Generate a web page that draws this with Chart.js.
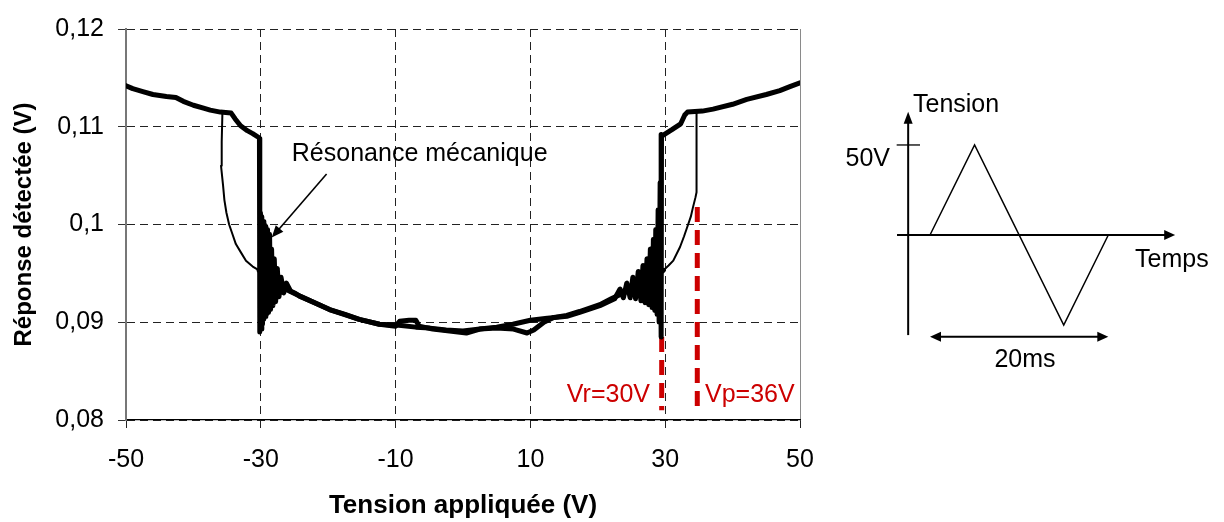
<!DOCTYPE html>
<html><head><meta charset="utf-8">
<script src="https://cdn.jsdelivr.net/npm/chart.js@4.4.0/dist/chart.umd.min.js"></script>
<style>
html,body{margin:0;padding:0;background:#fff;}
#wrap{position:relative;width:1224px;height:522px;overflow:hidden;}
#main{position:absolute;left:0;top:0;}
#inset{position:absolute;left:820px;top:60px;}
</style></head><body>
<div id="wrap">
<canvas id="main" width="1224" height="522"></canvas>
<canvas id="inset" width="400" height="330"></canvas>
</div>
<script>
// ---------- DATA ----------
// Axis ticks
const xTickValues = [-50, -30, -10, 10, 30, 50];
const xTickLabels = ['-50', '-30', '-10', '10', '30', '50'];
const yTickValues = [0.08, 0.09, 0.10, 0.11, 0.12];
const yTickLabels = ['0,08', '0,09', '0,1', '0,11', '0,12'];

// Sweep with increasing voltage (thick trace): upper left plateau, release at -30 V with ringing, lower curve
const upV = [-50, -49, -47.5, -46, -45, -44, -42.6, -41.5, -40, -38.5, -37.5, -36, -34.4, -33.8, -33, -32, -31.2, -30.3,
  -30.2, -30.15, -30.05, -29.95, -29.85, -29.75, -29.65, -29.55, -29.45, -29.35, -29.25, -29.15, -29.0, -28.85, -28.7, -28.55,
  -28.4, -28.2, -28.0, -27.8, -27.55, -27.3, -27.0, -26.6, -26.2, -25.6, -25.0,
  -24.3, -22, -19.8, -17.5, -15.4, -12.4, -10, -9.4, -8, -7, -6.5, -4.5, -2, 0.5, 2.5, 5,
  7.5, 9.5, 10.5, 12, 13.5, 15.4, 17.3, 20.3, 22, 23.5, 25, 26.5, 28, 29.1, 29.7];
const upR = [0.1142, 0.1139, 0.1136, 0.1133, 0.1132, 0.1131, 0.1130, 0.1126, 0.1122, 0.1119, 0.1117, 0.1115, 0.1114, 0.1108, 0.1101, 0.1096, 0.1093, 0.1089,
  0.1088, 0.0890, 0.1012, 0.0893, 0.1008, 0.0898, 0.1003, 0.0903, 0.1000, 0.0906, 0.0998, 0.0908, 0.0995, 0.0910, 0.0990, 0.0913,
  0.0975, 0.0917, 0.0965, 0.0921, 0.0955, 0.0926, 0.0946, 0.0930, 0.0940, 0.0932, 0.0930,
  0.0927, 0.0920, 0.0913, 0.0908, 0.0903, 0.0898, 0.0896, 0.0901, 0.0902, 0.0902, 0.0896, 0.0893, 0.0891, 0.0889, 0.0893, 0.0894,
  0.0893, 0.0889, 0.0892, 0.0900, 0.0905, 0.0907, 0.0911, 0.0918, 0.0924, 0.0929, 0.0934, 0.0940, 0.0946, 0.0950, 0.0953];

// Pull-in transition on the right (thin trace)
const pullRightV = [29.7, 30.5, 31.2, 32.2, 32.8, 33.4, 33.8, 34.1, 34.5, 34.65, 34.65];
const pullRightR = [0.0953, 0.0958, 0.0963, 0.0977, 0.0988, 0.1000, 0.1008, 0.1017, 0.1028, 0.1033, 0.1114];

// Sweep with decreasing voltage (thick trace): upper right plateau, release at 30 V with ringing, lower curve
const downV = [50, 48.5, 47, 45, 42.1, 40, 37.1, 35.5, 33.3, 32.9, 32.3, 31, 29.6, 29.45,
  29.4, 29.25, 29.1, 28.95, 28.8, 28.6, 28.45, 28.25, 28.05, 27.8, 27.55, 27.3, 27.0, 26.7, 26.4, 26.0, 25.6, 25.2, 24.8, 24.3,
  23.8, 23.3, 22.5, 20.3, 17.3, 15.4, 12.5, 10, 7.4, 5, 2.5, 0, -2.5, -4.9, -7, -9.5, -12.4, -15.4, -19.8, -24.3, -27.3, -29, -30.24];
const downR = [0.1145, 0.1141, 0.1137, 0.1133, 0.1128, 0.1123, 0.1118, 0.1116, 0.1115, 0.1112, 0.1103, 0.1097, 0.1091, 0.1092,
  0.0885, 0.1043, 0.0900, 0.1015, 0.0908, 0.0995, 0.0912, 0.0985, 0.0915, 0.0975, 0.0918, 0.0965, 0.0920, 0.0958, 0.0922, 0.0952, 0.0924, 0.0946, 0.0925, 0.0940,
  0.0925, 0.0934, 0.0924, 0.0917, 0.0910, 0.0906, 0.0904, 0.0902, 0.0898, 0.0895, 0.0893, 0.0891, 0.0892, 0.0894, 0.0895, 0.0897, 0.0898, 0.0903, 0.0913, 0.0927, 0.0937, 0.0946, 0.0953];

// Pull-in transition on the left (thin trace)
const pullLeftV = [-30.24, -31.2, -32.2, -33, -33.7, -34.2, -34.7, -35.1, -35.4, -35.6, -35.9, -35.8, -35.7];
const pullLeftR = [0.0953, 0.0957, 0.0963, 0.0972, 0.0980, 0.0990, 0.1000, 0.1012, 0.1025, 0.1040, 0.1060, 0.1085, 0.1113];

// Red markers: release voltage Vr and pull-in voltage Vp
const vrMarkerV = [29.48, 29.48];
const vrMarkerR = [0.0885, 0.0810];
const vpMarkerV = [34.76, 34.76];
const vpMarkerR = [0.1018, 0.0807];

// Annotations (anchored in data units)
const resonanceLabel = 'Résonance mécanique';
const resonanceAnchor = [-25.4, 0.1065];
const resonanceArrowFrom = [-20.24, 0.10517];
const resonanceArrowTo = [-28.38, 0.09867];
const vrLabel = 'Vr=30V';
const vrLabelAnchor = [27.74, 0.0818];
const vpLabel = 'Vp=36V';
const vpLabelAnchor = [35.9, 0.0818];

// Inset: triangular drive signal
const waveT = [0, 5, 15, 20];
const waveV = [0, 50, -50, 0];
const insetLabels = ['Tension', 'Temps', '50V', '20ms'];

// ---------- RENDER ----------
const FONT = "'Liberation Sans', Arial, Helvetica, sans-serif";
const RED = '#cc0000';
const toPts = (xs, ys) => xs.map((x, i) => ({x: x, y: ys[i]}));

function arrowHead(ctx, tx, ty, dx, dy, len, half) {
  const n = Math.hypot(dx, dy); dx /= n; dy /= n;
  const bx = tx - dx * len, by = ty - dy * len;
  ctx.beginPath();
  ctx.moveTo(tx, ty);
  ctx.lineTo(bx - dy * half, by + dx * half);
  ctx.lineTo(bx + dy * half, by - dx * half);
  ctx.closePath();
  ctx.fill();
}

const annotPlugin = {
  id: 'annot',
  afterDatasetsDraw(chart) {
    const {ctx, scales: {x, y}} = chart;
    const px = v => x.getPixelForValue(v), py = v => y.getPixelForValue(v);
    ctx.save();
    ctx.font = '25px ' + FONT;
    ctx.textBaseline = 'alphabetic';
    ctx.fillStyle = '#000';
    ctx.textAlign = 'left';
    ctx.fillText(resonanceLabel, px(resonanceAnchor[0]), py(resonanceAnchor[1]));
    const x1 = px(resonanceArrowFrom[0]), y1 = py(resonanceArrowFrom[1]);
    const x2 = px(resonanceArrowTo[0]), y2 = py(resonanceArrowTo[1]);
    ctx.strokeStyle = '#000'; ctx.lineWidth = 1.6;
    const dx = x2 - x1, dy = y2 - y1, n = Math.hypot(dx, dy);
    ctx.beginPath(); ctx.moveTo(x1, y1); ctx.lineTo(x2 - dx / n * 8, y2 - dy / n * 8); ctx.stroke();
    arrowHead(ctx, x2, y2, dx, dy, 12, 5);
    ctx.fillStyle = RED;
    ctx.textAlign = 'right';
    ctx.fillText(vrLabel, px(vrLabelAnchor[0]), py(vrLabelAnchor[1]));
    ctx.textAlign = 'left';
    ctx.fillText(vpLabel, px(vpLabelAnchor[0]), py(vpLabelAnchor[1]));
    ctx.restore();
  }
};

const thick = {borderColor: '#000', borderWidth: 5, pointRadius: 0, tension: 0, borderJoinStyle: 'round', borderCapStyle: 'round', fill: false};
const thin = {borderColor: '#000', borderWidth: 2, pointRadius: 0, tension: 0, borderJoinStyle: 'round', borderCapStyle: 'round', fill: false};
const redDash = {borderColor: RED, borderWidth: 5, pointRadius: 0, tension: 0, borderDash: [15, 8], borderCapStyle: 'butt', fill: false};

new Chart(document.getElementById('main'), {
  type: 'line',
  data: {
    datasets: [
      Object.assign({label: 'up', data: toPts(upV, upR)}, thick),
      Object.assign({label: 'down', data: toPts(downV, downR)}, thick),
      Object.assign({label: 'pullRight', data: toPts(pullRightV, pullRightR)}, thin),
      Object.assign({label: 'pullLeft', data: toPts(pullLeftV, pullLeftR)}, thin),
      Object.assign({label: 'Vr', data: toPts(vrMarkerV, vrMarkerR)}, redDash),
      Object.assign({label: 'Vp', data: toPts(vpMarkerV, vpMarkerR)}, redDash)
    ]
  },
  options: {
    responsive: false,
    animation: false,
    events: [],
    layout: {padding: {left: 0, top: 20, right: 424, bottom: 0}},
    plugins: {legend: {display: false}, tooltip: {enabled: false}},
    scales: {
      x: {
        type: 'linear', min: -50, max: 50,
        afterBuildTicks: s => { s.ticks = xTickValues.map(v => ({value: v})); },
        afterFit: s => { s.height = 102; },
        ticks: {
          callback: (v, i) => xTickLabels[i],
          font: {family: FONT, size: 25}, color: '#000', padding: 17, maxRotation: 0, autoSkip: false
        },
        grid: {
          color: c => (c.tick && c.tick.value === 50) ? '#8a8a8a' : '#222',
          lineWidth: 1, tickLength: 8, tickColor: '#222', tickWidth: 1
        },
        border: {display: true, color: '#000', width: 1.2, dash: c => (c.tick && c.tick.value === 50) ? [] : [8, 5]},
        title: {display: true, text: 'Tension appliquée (V)', font: {family: FONT, size: 26, weight: 'bold'}, color: '#000', padding: {top: 0, bottom: 1}}
      },
      y: {
        type: 'linear', min: 0.08, max: 0.12,
        afterBuildTicks: s => { s.ticks = yTickValues.map(v => ({value: v})); },
        afterFit: s => { s.width = 126; },
        ticks: {
          callback: (v, i) => yTickLabels[i],
          font: {family: FONT, size: 25}, color: '#000', padding: 14
        },
        grid: {color: '#222', lineWidth: 1, tickLength: 8, tickColor: '#333', tickWidth: 1},
        border: {display: true, color: '#777', width: 2, dash: [8, 5]},
        title: {display: true, text: 'Réponse détectée (V)', font: {family: FONT, size: 24, weight: 'bold'}, color: '#000', padding: {top: 10, bottom: 0}}
      }
    }
  },
  plugins: [annotPlugin]
});

// ---------- INSET ----------
const insetPlugin = {
  id: 'insetAxes',
  beforeDatasetsDraw(chart) {
    const {ctx, scales: {x, y}} = chart;
    const px = v => x.getPixelForValue(v), py = v => y.getPixelForValue(v);
    ctx.save();
    ctx.strokeStyle = '#000'; ctx.fillStyle = '#000';
    ctx.lineWidth = 2;
    ctx.beginPath(); ctx.moveTo(px(-2.45), py(-55.6)); ctx.lineTo(px(-2.45), py(63)); ctx.stroke();
    arrowHead(ctx, px(-2.45), py(68.5), 0, -1, 12, 4.5);
    ctx.beginPath(); ctx.moveTo(px(-3.7), py(0)); ctx.lineTo(px(26.5), py(0)); ctx.stroke();
    arrowHead(ctx, px(27.5), py(0), 1, 0, 11, 5);
    ctx.lineWidth = 1.3;
    ctx.beginPath(); ctx.moveTo(px(-3.74), py(50)); ctx.lineTo(px(-1.12), py(50)); ctx.stroke();
    ctx.lineWidth = 2;
    ctx.beginPath(); ctx.moveTo(px(0) + 8, py(-56.5)); ctx.lineTo(px(20) - 8, py(-56.5)); ctx.stroke();
    arrowHead(ctx, px(0), py(-56.5), -1, 0, 11, 5);
    arrowHead(ctx, px(20), py(-56.5), 1, 0, 11, 5);
    ctx.restore();
  },
  afterDraw(chart) {
    const {ctx, scales: {x, y}} = chart;
    const px = v => x.getPixelForValue(v), py = v => y.getPixelForValue(v);
    ctx.save();
    ctx.fillStyle = '#000';
    ctx.font = '25px ' + FONT;
    ctx.textBaseline = 'alphabetic';
    ctx.textAlign = 'left';
    ctx.fillText(insetLabels[0], px(-1.91), py(68.5));
    ctx.fillText(insetLabels[1], px(23.0), py(-17.6));
    ctx.textAlign = 'right';
    ctx.fillText(insetLabels[2], px(-4.49), py(38.3));
    ctx.textAlign = 'center';
    ctx.fillText(insetLabels[3], px(10.66), py(-73.2));
    ctx.restore();
  }
};

new Chart(document.getElementById('inset'), {
  type: 'line',
  data: {datasets: [{label: 'signal', data: toPts(waveT, waveV), borderColor: '#000', borderWidth: 1.5, pointRadius: 0, tension: 0, fill: false}]},
  options: {
    responsive: false, animation: false, events: [],
    layout: {padding: 0},
    plugins: {legend: {display: false}, tooltip: {enabled: false}},
    scales: {
      x: {type: 'linear', display: false, min: -12.34, max: 32.53},
      y: {type: 'linear', display: false, min: -86.1, max: 97.2}
    }
  },
  plugins: [insetPlugin]
});
</script>
</body></html>
